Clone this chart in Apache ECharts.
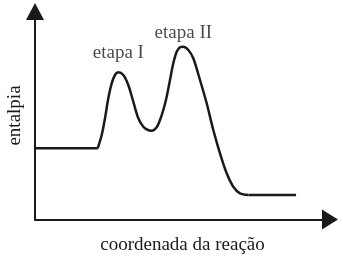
<!DOCTYPE html>
<html>
<head>
<meta charset="utf-8">
<script src="https://cdn.jsdelivr.net/npm/echarts@6/dist/echarts.min.js"></script>
<style>
html,body{margin:0;padding:0;background:#fff;}
#c{width:343px;height:256px;}
</style>
</head>
<body>
<div id="c"></div>
<script>
// Reaction coordinate (x) and enthalpy (y), arbitrary units 0-100
var startX = [0, 21.25];
var startY = [34.23, 34.23];
var curveX = [21.25, 22.61, 23.73, 24.85, 26.0, 27.12, 28.24, 29.93, 31.63, 33.32, 35.02, 36.71, 38.31, 39.56, 41.25, 42.37, 43.49, 44.64, 45.76, 46.88, 48.03, 49.15, 50.27, 51.97, 53.66, 55.93, 58.20, 60.44, 62.71, 64.98, 67.22, 69.49, 72.31];
var curveY = [34.23, 40.63, 48.65, 58.27, 65.48, 69.47, 70.77, 69.47, 64.66, 56.63, 48.65, 44.62, 43.03, 42.69, 44.33, 47.84, 52.64, 59.04, 67.07, 75.10, 80.67, 82.79, 83.08, 81.49, 77.50, 67.07, 55.87, 43.03, 31.83, 22.21, 15.77, 12.60, 11.78];
var endX = [72.31, 88.5];
var endY = [11.78, 11.78];
var stageLabels = ['etapa I', 'etapa II'];
var stagePeakIndex = [6, 22];
var xAxisName = 'coordenada da reação';
var yAxisName = 'entalpia';

var FONT = 'Liberation Serif';
var INK = '#1a1a1a';

var labelStyles = [
  {distance: 9, offset: [0, 0]},
  {distance: 3.5, offset: [1, 0]}
];

function pairs(xs, ys) { return xs.map(function (x, i) { return [x, ys[i]]; }); }

var labelData = stagePeakIndex.map(function (idx, k) {
  return {
    value: [curveX[idx], curveY[idx]],
    label: {
      show: true,
      formatter: stageLabels[k],
      position: 'top',
      distance: labelStyles[k].distance,
      offset: labelStyles[k].offset,
      fontFamily: FONT,
      fontSize: 19,
      color: INK
    }
  };
});

var lineBase = {type: 'line', showSymbol: false, symbol: 'none', silent: true,
  lineStyle: {color: INK, width: 2.5}};

var chart = echarts.init(document.getElementById('c'), null, {renderer: 'canvas'});
chart.setOption({
  animation: false,
  backgroundColor: '#fff',
  grid: {left: 35, right: 13, top: 11.5, bottom: 36.5, containLabel: false, outerBoundsMode: 'none'},
  xAxis: {
    type: 'value', min: 0, max: 100,
    name: xAxisName, nameLocation: 'middle', nameGap: 16,
    nameTextStyle: {fontFamily: FONT, fontSize: 19, color: INK},
    axisLine: {show: true, onZero: false, lineStyle: {color: INK, width: 2},
      symbol: ['none', 'triangle'], symbolSize: [20, 16]},
    axisTick: {show: false}, axisLabel: {show: false}, splitLine: {show: false}
  },
  yAxis: {
    type: 'value', min: 0, max: 100,
    name: yAxisName, nameLocation: 'middle', nameGap: 10,
    nameTextStyle: {fontFamily: FONT, fontSize: 19, color: INK},
    axisLine: {show: true, onZero: false, lineStyle: {color: INK, width: 2},
      symbol: ['none', 'triangle'], symbolSize: [18, 17]},
    axisTick: {show: false}, axisLabel: {show: false}, splitLine: {show: false}
  },
  series: [
    Object.assign({}, lineBase, {data: pairs(startX, startY), smooth: false}),
    Object.assign({}, lineBase, {data: pairs(curveX, curveY), smooth: 0.3}),
    Object.assign({}, lineBase, {data: pairs(endX, endY), smooth: false}),
    {
      type: 'scatter', data: labelData, symbolSize: 1, silent: true,
      itemStyle: {color: 'rgba(0,0,0,0)'},
      labelLayout: {hideOverlap: false}
    }
  ]
});
</script>
</body>
</html>
